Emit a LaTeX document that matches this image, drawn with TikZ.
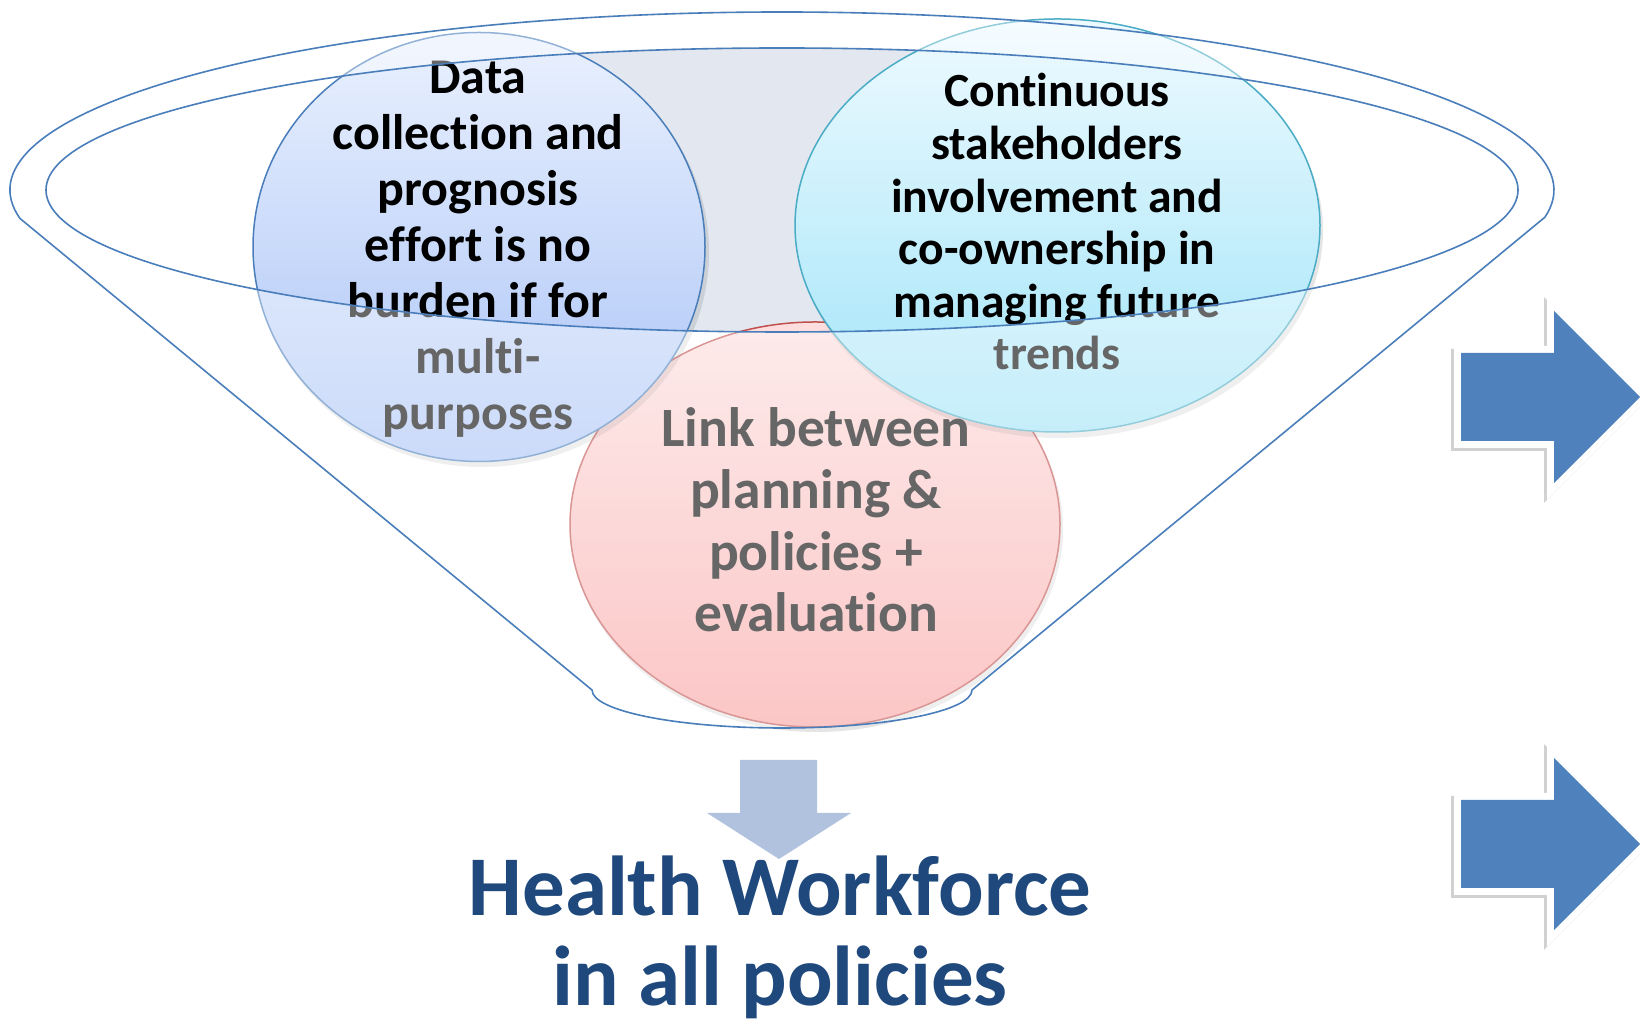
\documentclass[tikz,border=0pt]{standalone}
\usepackage{fontspec}
\setmainfont{Carlito}[Ligatures=NoCommon]
\begin{document}
\begin{tikzpicture}[x=1pt,y=1pt]
\definecolor{funnelblue}{HTML}{4A7EBB}
\definecolor{openfill}{HTML}{E3E7EF}
\definecolor{lefttop}{HTML}{EAF1FE}
\definecolor{leftbot}{HTML}{A9C3F6}
\definecolor{leftedge}{HTML}{4A7EBB}
\definecolor{righttop}{HTML}{EEFAFF}
\definecolor{rightbot}{HTML}{A0E4F8}
\definecolor{rightedge}{HTML}{4BACC6}
\definecolor{redtop}{HTML}{FDDEDE}
\definecolor{redbot}{HTML}{F9A0A0}
\definecolor{rededge}{HTML}{C0504D}
\definecolor{downfill}{HTML}{B0C2DE}
\definecolor{arrowblue}{HTML}{4F81BD}
\definecolor{titleblue}{HTML}{1F497D}
\tikzset{
  funnel/.style={draw=funnelblue, line width=1.6},
  ltext/.style={anchor=base, inner sep=0pt, font=\bfseries\fontsize{50}{56}\selectfont},
  rtext/.style={anchor=base, inner sep=0pt, font=\bfseries\fontsize{47.6}{53}\selectfont},
  ptext/.style={anchor=base, inner sep=0pt, text=black, font=\bfseries\fontsize{55.5}{62}\selectfont},
  btext/.style={anchor=base, inner sep=0pt, text=titleblue, font=\bfseries\fontsize{85}{93}\selectfont},
  circshadow/.style={fill=black, opacity=0.10},
  rarrow/.pic={
    \filldraw[black, opacity=0.18, line width=14, line join=miter, shift={(-3,-3)}]
      (0,44) -- (93,44) -- (93,86) -- (179,0) -- (93,-86) -- (93,-44) -- (0,-44) -- cycle;
    \filldraw[white, line width=14, line join=miter]
      (0,44) -- (93,44) -- (93,86) -- (179,0) -- (93,-86) -- (93,-44) -- (0,-44) -- cycle;
    \fill[arrowblue]
      (0,44) -- (93,44) -- (93,86) -- (179,0) -- (93,-86) -- (93,-44) -- (0,-44) -- cycle;
  }
}
\useasboundingbox (0,0) rectangle (1640,1024);
\fill[white] (0,0) rectangle (1640,1024);

% grey opening of the funnel
\begin{scope}
  \clip (565,0) rectangle (930,1024);
  \fill[openfill] (782,834) ellipse [x radius=736, y radius=142];
\end{scope}

% red circle
\fill[circshadow] (817,495) ellipse [x radius=246, y radius=203];
\draw[top color=redtop, bottom color=redbot, draw=rededge, line width=1.5]
  (815,499.5) ellipse [x radius=245, y radius=202.5];
\foreach \t [count=\i] in {Link between, planning \&, policies +, evaluation}
  \node[ptext] (P\i) at (816, {577.3-61.7*(\i-1)}) {\t};

% left circle
\fill[circshadow] (482,772) ellipse [x radius=227, y radius=215];
\draw[top color=lefttop, bottom color=leftbot, draw=leftedge, line width=1.5]
  (479,777) ellipse [x radius=226, y radius=214.5];
\foreach \t [count=\i] in {Data, collection and, prognosis, effort is no, burden if for, multi-, purposes}
  \node[ltext] (L\i) at (478, {930.7-56*(\i-1)}) {\t};

% right circle
\fill[circshadow] (1060,793) ellipse [x radius=263, y radius=207];
\draw[top color=righttop, bottom color=rightbot, draw=rightedge, line width=1.5]
  (1057.5,798.5) ellipse [x radius=262.5, y radius=206.5];
\foreach \t [count=\i] in {Continuous, stakeholders, involvement and, co-ownership in, managing future, trends}
  \node[rtext] (R\i) at (1057, {917.3-52.66*(\i-1)}) {\t};

% translucent funnel body
\fill[white, fill opacity=0.4, even odd rule]
  (782,834) ++(189.2:772 and 178)
  arc[start angle=189.2, end angle=-8.8, x radius=772, y radius=178]
  -- (972,334)
  arc[start angle=0, end angle=-180, x radius=190, y radius=38]
  -- cycle
  (782,834) ellipse [x radius=736, y radius=142];

% funnel outlines
\draw[funnel, line join=round]
  (782,834) ++(189.2:772 and 178)
  arc[start angle=189.2, end angle=-8.8, x radius=772, y radius=178]
  -- (972,334)
  arc[start angle=0, end angle=-180, x radius=190, y radius=38]
  -- cycle;
\draw[funnel] (782,834) ellipse [x radius=736, y radius=142];

% down arrow
\fill[downfill] (740,264) -- (817,264) -- (817,211) -- (851,211) -- (779,165)
  -- (707,211) -- (740,211) -- cycle;

% result text
\node[btext] (B1) at (780,108) {Health Workforce};
\node[btext] (B2) at (780,18) {in all policies};

% right arrows
\pic (RA1) at (1461,627) {rarrow};
\pic (RA2) at (1461,180) {rarrow};
\end{tikzpicture}
\end{document}
